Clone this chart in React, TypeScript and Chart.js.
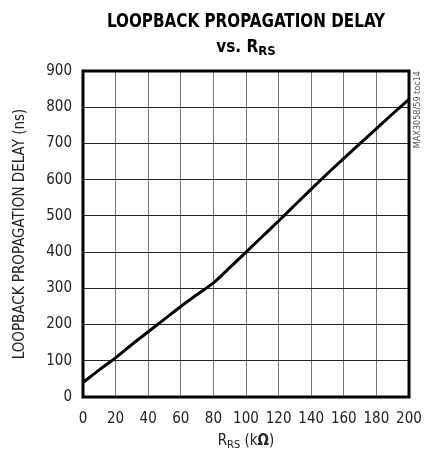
import React, { useEffect, useRef } from "react";
import { Chart, registerables } from "chart.js";
Chart.register(...registerables);

const rrs = [0, 10, 20, 30, 40, 50, 60, 70, 80, 90, 100, 110, 120, 130, 140, 150, 160, 170, 180, 190, 200];
const delayNs = [40, 75, 108, 145, 180, 215, 250, 283, 315, 357, 400, 443, 486, 530, 574, 617, 659, 700, 741, 782, 822];
const xTickValues = [0, 20, 40, 60, 80, 100, 120, 140, 160, 180, 200];
const yTickValues = [0, 100, 200, 300, 400, 500, 600, 700, 800, 900];

const FONT = "'Liberation Sans Narrow', 'Arial Narrow', 'DejaVu Sans Condensed', sans-serif";

type Seg = { t: string; font: string; dy: number };

function drawSegs(ctx: CanvasRenderingContext2D, segs: Seg[], cx: number, y: number) {
  let total = 0;
  const widths = segs.map((s) => {
    ctx.font = s.font;
    const w = ctx.measureText(s.t).width;
    total += w;
    return w;
  });
  let x = cx - total / 2;
  ctx.textAlign = "left";
  segs.forEach((s, i) => {
    ctx.font = s.font;
    ctx.fillText(s.t, x, y + s.dy);
    x += widths[i];
  });
}

const decor = {
  id: "decor",
  afterDraw(chart: any) {
    const { ctx, chartArea: a } = chart;
    ctx.save();
    ctx.strokeStyle = "#000";
    ctx.lineWidth = 3;
    ctx.strokeRect(a.left, a.top, a.right - a.left, a.bottom - a.top);

    ctx.fillStyle = "#000";
    ctx.textBaseline = "alphabetic";
    ctx.textAlign = "center";
    ctx.font = `bold 19px ${FONT}`;
    ctx.fillText("LOOPBACK PROPAGATION DELAY", 246, 27, 278);
    drawSegs(
      ctx,
      [
        { t: "vs. R", font: `bold 17px ${FONT}`, dy: 0 },
        { t: "RS", font: `bold 13px ${FONT}`, dy: 3 },
      ],
      246,
      52
    );

    ctx.fillStyle = "#222";
    drawSegs(
      ctx,
      [
        { t: "R", font: `15px ${FONT}`, dy: 0 },
        { t: "RS", font: `11px ${FONT}`, dy: 3 },
        { t: " (k", font: `15px ${FONT}`, dy: 0 },
        { t: "Ω", font: `bold 15px ${FONT}`, dy: 0 },
        { t: ")", font: `15px ${FONT}`, dy: 0 },
      ],
      246,
      445
    );

    ctx.save();
    ctx.translate(24, 234);
    ctx.rotate(-Math.PI / 2);
    ctx.textAlign = "center";
    ctx.font = `15px ${FONT}`;
    ctx.fillText("LOOPBACK PROPAGATION DELAY (ns)", 0, 0);
    ctx.restore();

    ctx.save();
    ctx.translate(420, 71);
    ctx.rotate(-Math.PI / 2);
    ctx.textAlign = "right";
    ctx.fillStyle = "#555";
    ctx.font = `9px ${FONT}`;
    ctx.fillText("MAX3058/59 toc14", 0, 0);
    ctx.restore();

    ctx.restore();
  },
};

export default function App() {
  const ref = useRef<HTMLCanvasElement | null>(null);
  useEffect(() => {
    document.body.style.margin = "0";
    const chart = new Chart(ref.current as HTMLCanvasElement, {
      type: "line",
      data: {
        datasets: [
          {
            data: rrs.map((x, i) => ({ x, y: delayNs[i] })),
            borderColor: "#000",
            borderWidth: 3,
            pointRadius: 0,
            cubicInterpolationMode: "monotone",
            fill: false,
          },
        ],
      },
      options: {
        animation: false,
        responsive: false,
        devicePixelRatio: 1,
        layout: { padding: { left: 0, top: 71, right: 15, bottom: 0 } },
        plugins: { legend: { display: false }, tooltip: { enabled: false } },
        scales: {
          x: {
            type: "linear",
            min: 0,
            max: 200,
            afterBuildTicks: (s: any) => {
              s.ticks = xTickValues.map((v) => ({ value: v }));
            },
            afterFit: (s: any) => {
              s.height = 59;
              s.paddingLeft = 0;
              s.paddingRight = 0;
            },
            grid: { color: "#777", lineWidth: 1, drawTicks: false },
            border: { display: false },
            ticks: { padding: 13, color: "#222", font: { family: FONT, size: 15 }, maxRotation: 0 },
          },
          y: {
            type: "linear",
            min: 0,
            max: 900,
            afterBuildTicks: (s: any) => {
              s.ticks = yTickValues.map((v) => ({ value: v }));
            },
            afterFit: (s: any) => {
              s.width = 83;
              s.paddingTop = 0;
              s.paddingBottom = 0;
            },
            grid: { color: "#222", lineWidth: 1, drawTicks: false },
            border: { display: false },
            ticks: { padding: 11, color: "#222", font: { family: FONT, size: 15 } },
          },
        },
      },
      plugins: [decor],
    } as any);
    return () => chart.destroy();
  }, []);
  return (
    <div style={{ width: 424, height: 456, background: "#fff" }}>
      <canvas ref={ref} width={424} height={456} style={{ display: "block" }} />
    </div>
  );
}
